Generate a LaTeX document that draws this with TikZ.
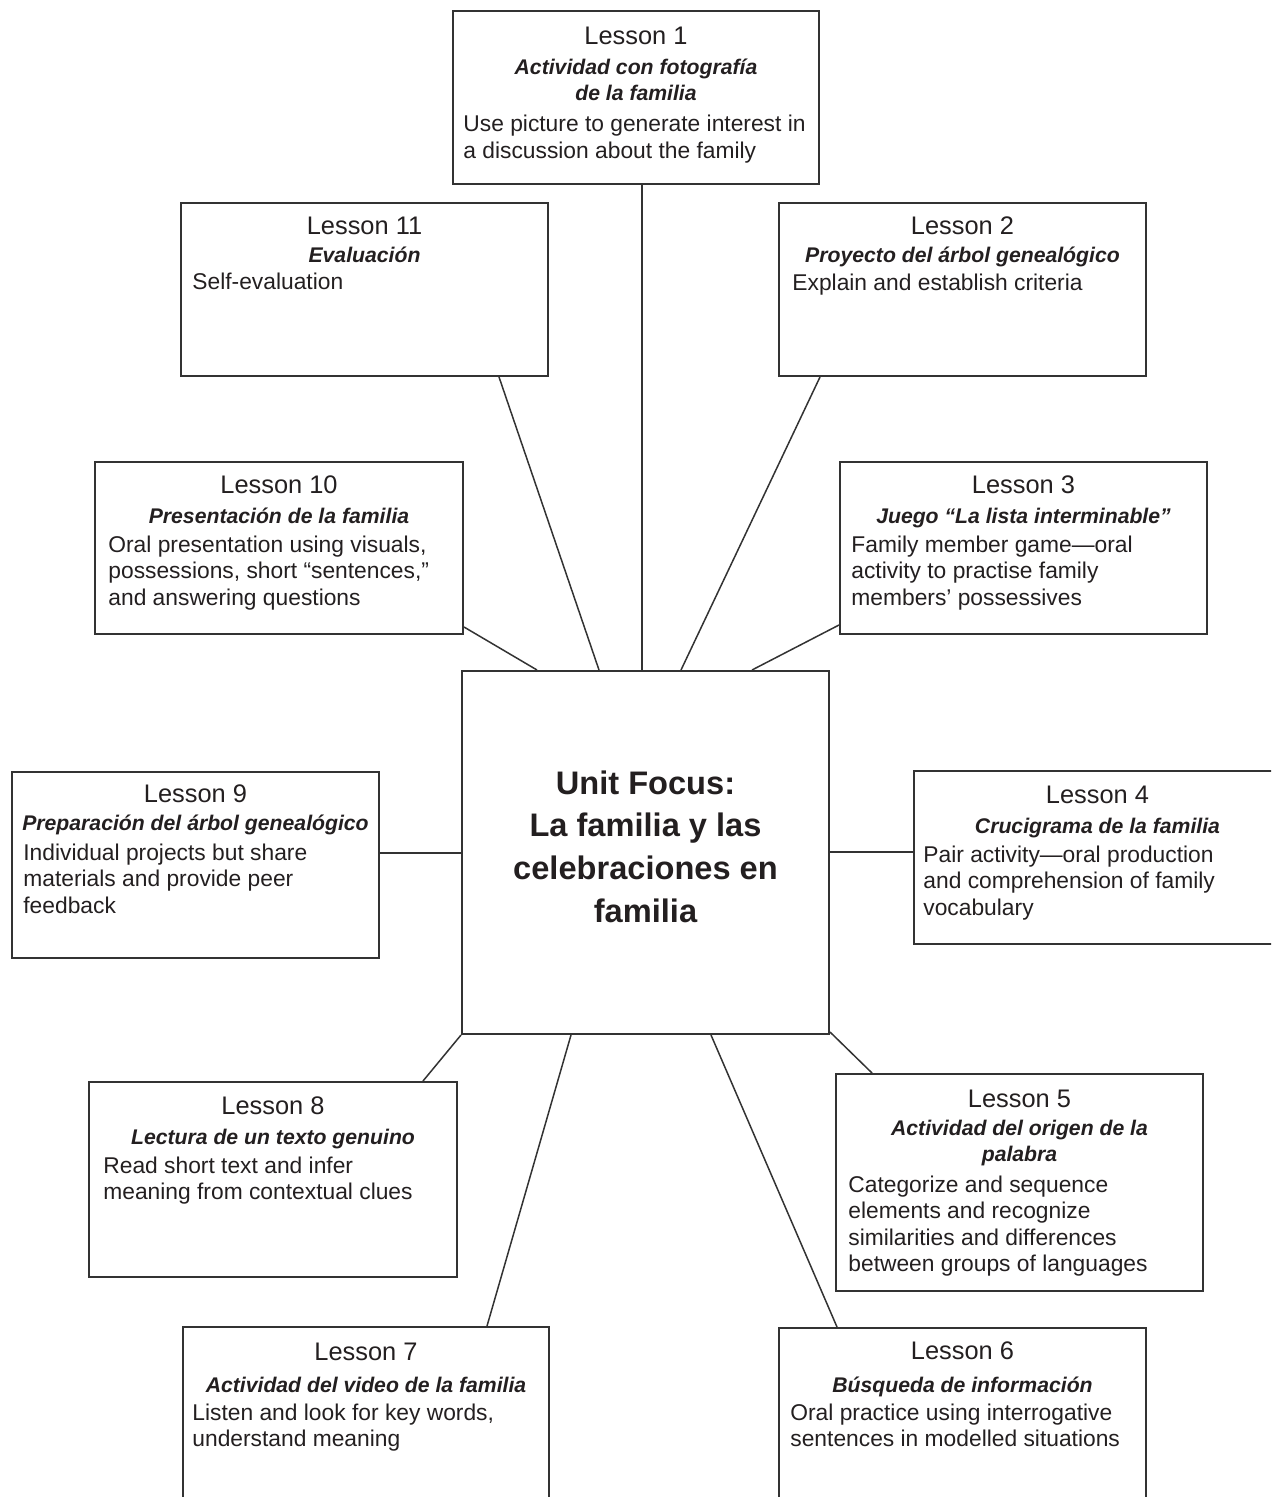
\documentclass[tikz,border=0pt]{standalone}
\usepackage{fontspec}
\setmainfont{Liberation Sans}
\usetikzlibrary{calc}
\definecolor{ink}{HTML}{231F20}
\definecolor{edge}{HTML}{333333}
\newcommand\bl[1]{\begin{tabular}[t]{@{}l@{}}#1\end{tabular}}
\newcommand\cl[1]{\begin{tabular}[t]{@{}c@{}}#1\end{tabular}}
\begin{document}
\begin{tikzpicture}[x=0.5pt,y=-0.5pt,
  lbox/.style={draw=edge, line width=1pt, anchor=north west, inner sep=0pt},
  ttl/.style={anchor=base, inner sep=0pt, text=ink, font=\fontsize{12.7}{15}\selectfont},
  sub/.style={anchor=base, inner sep=0pt, text=ink, font=\fontsize{10.6}{13}\selectfont\bfseries\itshape},
  bdy/.style={anchor=base west, inner sep=0pt, text=ink, font=\fontsize{11.4}{13.3}\selectfont},
  conn/.style={draw=edge, line width=0.75pt},
  stem/.style={draw=edge, line width=1.4pt},
  focus/.style={inner sep=0pt, align=center, text=ink, font=\fontsize{16.3}{21.3}\selectfont\bfseries}
]
\useasboundingbox (0,0) rectangle (1271,1497);
\clip (0,0) rectangle (1271,1497);

% boxes
\node[lbox, minimum width=183pt,   minimum height=86.5pt] (L1)  at (452,10) {};
\node[lbox, minimum width=183.5pt, minimum height=86.5pt] (L11) at (180,202) {};
\node[lbox, minimum width=183.5pt, minimum height=86.5pt] (L2)  at (778,202) {};
\node[lbox, minimum width=184pt,   minimum height=86pt]   (L10) at (94,461) {};
\node[lbox, minimum width=183.5pt, minimum height=86pt]   (L3)  at (839,461) {};
\node[lbox, minimum width=183.5pt, minimum height=93pt]   (L9)  at (11,771) {};
\node[lbox, minimum width=183.5pt, minimum height=86.5pt] (L4)  at (913,770) {};
\node[lbox, minimum width=184pt,   minimum height=97.5pt] (L8)  at (88,1081) {};
\node[lbox, minimum width=183.5pt, minimum height=108.5pt] (L5) at (835,1073) {};
\node[lbox, minimum width=183pt,   minimum height=100pt]  (L7)  at (182,1326) {};
\node[lbox, minimum width=183.5pt, minimum height=100pt]  (L6)  at (778,1327) {};
\node[lbox, minimum width=183.5pt, minimum height=181.5pt] (C) at (461,670) {};
\node[focus] (Ct) at ($(C.center)+(0,-6)$)
  {Unit Focus:\\La familia y las\\celebraciones en\\familia};

% connectors
\draw[stem] ($(L1.south west)+(190,0)$) -- ($(C.north west)+(181,0)$);
\draw[conn] ($(L11.south west)+(319,0)$) -- ($(C.north west)+(138,0)$);
\draw[conn] ($(L2.south west)+(42,0)$) -- ($(C.north west)+(220,0)$);
\draw[conn] ($(L10.south east)+(0,-8)$) -- ($(C.north west)+(76,0)$);
\draw[conn] ($(L3.south west)+(0,-10)$) -- ($(C.north west)+(291,0)$);
\draw[conn] ($(L9.north east)+(0,82)$) -- ($(C.north west)+(0,183)$);
\draw[conn] ($(C.north east)+(0,182)$) -- ($(L4.north west)+(0,82)$);
\draw[conn] (C.south west) -- ($(L8.north west)+(335,0)$);
\draw[conn] ($(C.south east)+(0,-3)$) -- ($(L5.north west)+(37,0)$);
\draw[conn] ($(C.south west)+(110,0)$) -- ($(L7.north west)+(305,0)$);
\draw[conn] ($(C.south west)+(250,0)$) -- ($(L6.north west)+(59,0)$);

% Lesson 1
\node[ttl] (L1a) at ($(L1.north)+(0,35)$) {Lesson 1};
\node[sub] (L1b) at ($(L1.north)+(0,65)$) {\cl{Actividad con fotografía\\de la familia}};
\node[bdy] (L1c) at ($(L1.north west)+(11,122)$) {\bl{Use picture to generate interest in\\a discussion about the family}};
% Lesson 11
\node[ttl] (L11a) at ($(L11.north)+(0,33)$) {Lesson 11};
\node[sub] (L11b) at ($(L11.north)+(0,61)$) {Evaluación};
\node[bdy] (L11c) at ($(L11.north west)+(12,88)$) {Self-evaluation};
% Lesson 2
\node[ttl] (L2a) at ($(L2.north)+(0,33)$) {Lesson 2};
\node[sub] (L2b) at ($(L2.north)+(0,61)$) {Proyecto del árbol genealógico};
\node[bdy] (L2c) at ($(L2.north west)+(14,89)$) {Explain and establish criteria};
% Lesson 10
\node[ttl] (L10a) at ($(L10.north)+(0,32)$) {Lesson 10};
\node[sub] (L10b) at ($(L10.north)+(0,62)$) {Presentación de la familia};
\node[bdy] (L10c) at ($(L10.north west)+(14,91)$) {\bl{Oral presentation using visuals,\\possessions, short “sentences,”\\and answering questions}};
% Lesson 3
\node[ttl] (L3a) at ($(L3.north)+(0,33)$) {Lesson 3};
\node[sub] (L3b) at ($(L3.north)+(0,62)$) {Juego “La lista interminable”};
\node[bdy] (L3c) at ($(L3.north west)+(12,91)$) {\bl{Family member game—oral\\activity to practise family\\members’ possessives}};
% Lesson 9
\node[ttl] (L9a) at ($(L9.north)+(0,31)$) {Lesson 9};
\node[sub] (L9b) at ($(L9.north)+(0,59)$) {Preparación del árbol genealógico};
\node[bdy] (L9c) at ($(L9.north west)+(12,89)$) {\bl{Individual projects but share\\materials and provide peer\\feedback}};
% Lesson 4
\node[ttl] (L4a) at ($(L4.north)+(0,33)$) {Lesson 4};
\node[sub] (L4b) at ($(L4.north)+(0,63)$) {Crucigrama de la familia};
\node[bdy] (L4c) at ($(L4.north west)+(10,92)$) {\bl{Pair activity—oral production\\and comprehension of family\\vocabulary}};
% Lesson 8
\node[ttl] (L8a) at ($(L8.north)+(0,33)$) {Lesson 8};
\node[sub] (L8b) at ($(L8.north)+(0,63)$) {Lectura de un texto genuino};
\node[bdy] (L8c) at ($(L8.north west)+(15,92)$) {\bl{Read short text and infer\\meaning from contextual clues}};
% Lesson 5
\node[ttl] (L5a) at ($(L5.north)+(0,34)$) {Lesson 5};
\node[sub] (L5b) at ($(L5.north)+(0,62)$) {\cl{Actividad del origen de la\\palabra}};
\node[bdy] (L5c) at ($(L5.north west)+(13,119)$) {\bl{Categorize and sequence\\elements and recognize\\similarities and differences\\between groups of languages}};
% Lesson 7
\node[ttl] (L7a) at ($(L7.north)+(0,34)$) {Lesson 7};
\node[sub] (L7b) at ($(L7.north)+(0,66)$) {Actividad del video de la familia};
\node[bdy] (L7c) at ($(L7.north west)+(10,94)$) {\bl{Listen and look for key words,\\understand meaning}};
% Lesson 6
\node[ttl] (L6a) at ($(L6.north)+(0,32)$) {Lesson 6};
\node[sub] (L6b) at ($(L6.north)+(0,65)$) {Búsqueda de información};
\node[bdy] (L6c) at ($(L6.north west)+(12,93)$) {\bl{Oral practice using interrogative\\sentences in modelled situations}};
\end{tikzpicture}
\end{document}
